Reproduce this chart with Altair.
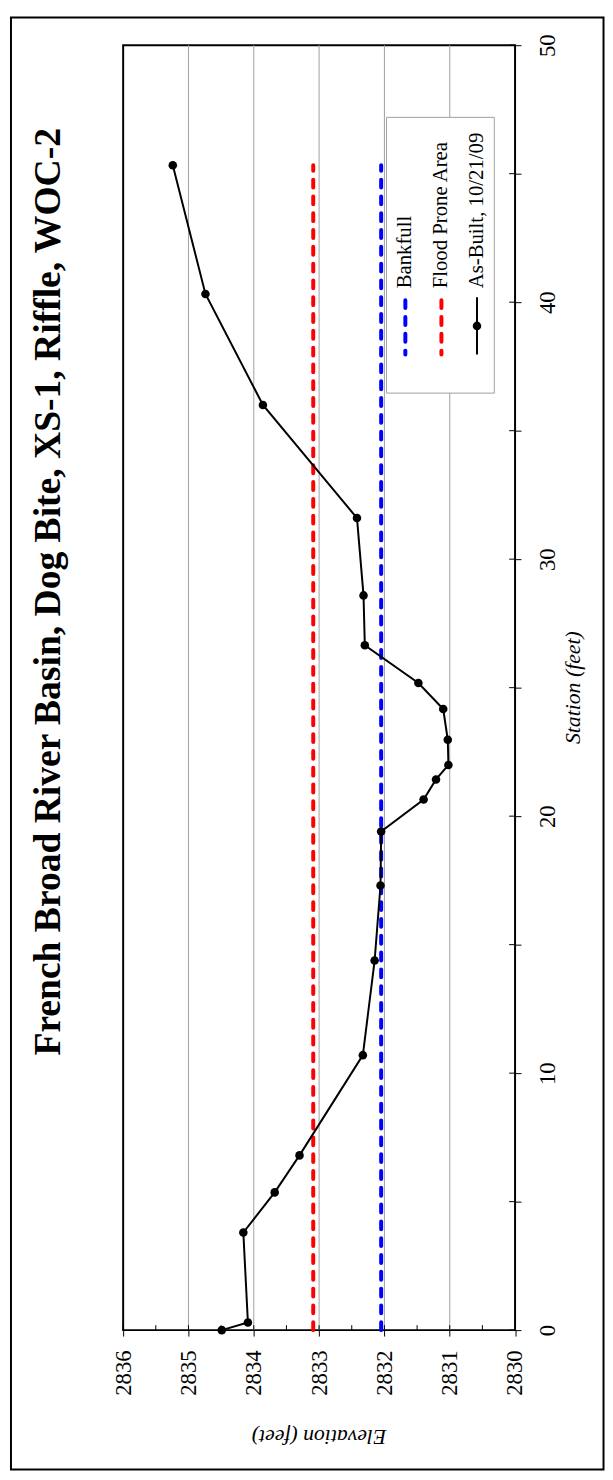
import altair as alt
import pandas as pd

# ---------------- data ----------------
station = [0.0, 0.3, 3.8, 5.36, 6.8, 10.7, 14.38, 17.3, 19.4, 20.65, 21.43,
           21.99, 22.97, 24.17, 25.18, 26.65, 28.59, 31.6, 36.0, 40.32, 45.33]
elevation = [2834.49, 2834.09, 2834.16, 2833.68, 2833.30, 2832.33, 2832.15,
             2832.06, 2832.05, 2831.40, 2831.21, 2831.02, 2831.03, 2831.10,
             2831.48, 2832.30, 2832.32, 2832.42, 2833.86, 2834.74, 2835.24]

ref_names = ["Bankfull", "Flood Prone Area"]
ref_elev = [2832.05, 2833.09]
ref_start = [0.0, 0.0]
ref_end = [45.33, 45.33]
ref_colors = ["#0000FF", "#FF0000"]

elev_ticks = [2830, 2831, 2832, 2833, 2834, 2835, 2836]
elev_grid = [2831, 2832, 2833, 2834, 2835]
elev_minor = [2830, 2830.5, 2831, 2831.5, 2832, 2832.5, 2833, 2833.5,
              2834, 2834.5, 2835, 2835.5, 2836]
station_ticks = [0, 5, 10, 15, 20, 25, 30, 35, 40, 45, 50]

title_text = "French Broad River Basin, Dog Bite, XS-1, Riffle, WOC-2"
x_title = "Elevation (feet)"
y_title = "Station (feet)"
series_name = "As-Built, 10/21/09"

# ---------------- layout ----------------
W, H = 396.5, 1300
FONT = "Liberation Serif"

profile = pd.DataFrame({"station": station, "elev": elevation})
refs = pd.DataFrame({"name": ref_names, "elev": ref_elev,
                     "s0": ref_start, "s1": ref_end})
one = pd.DataFrame({"k": [0]})

xscale = alt.Scale(domain=[2830, 2836], reverse=True, nice=False, zero=False)
yscale = alt.Scale(domain=[0, 50], nice=False, zero=False)

xaxis = alt.Axis(values=elev_ticks, orient="bottom", title=None,
                 grid=False, domain=False, tickSize=6, tickColor="black",
                 labelAngle=270, labelAlign="right", labelBaseline="middle",
                 labelPadding=14, labelFont=FONT, labelFontSize=23,
                 labelColor="black", format="d")
yaxis = alt.Axis(values=station_ticks, orient="right", title=None,
                 grid=False, domain=False, tickSize=6, tickColor="black",
                 labelAngle=270, labelAlign="center", labelBaseline="top",
                 labelPadding=16, labelFont=FONT, labelFontSize=23,
                 labelColor="black",
                 labelExpr="datum.value % 10 == 0 ? datum.label : ''")

# gridlines
grid = alt.Chart(pd.DataFrame({"g": elev_grid})).mark_rule(
    color="#A0A0A0", strokeWidth=1
).encode(
    x=alt.X("g:Q", scale=xscale, axis=xaxis),
    y=alt.value(0), y2=alt.value(H),
)

# inner minor ticks
xminor = alt.Chart(pd.DataFrame({"t": elev_minor})).mark_rule(
    color="black", strokeWidth=1
).encode(
    x=alt.X("t:Q", scale=xscale, axis=xaxis),
    y=alt.value(H - 5), y2=alt.value(H),
)
yminor = alt.Chart(pd.DataFrame({"t": station_ticks})).mark_rule(
    color="black", strokeWidth=1
).encode(
    y=alt.Y("t:Q", scale=yscale, axis=yaxis),
    x=alt.value(W - 6), x2=alt.value(W),
)

# reference lines
ref_lines = alt.Chart(refs).mark_rule(
    strokeWidth=4, strokeDash=[8, 9], strokeCap="round"
).encode(
    x=alt.X("elev:Q", scale=xscale, axis=xaxis),
    y=alt.Y("s0:Q", scale=yscale, axis=yaxis),
    y2="s1:Q",
    color=alt.Color("name:N", scale=alt.Scale(domain=ref_names, range=ref_colors),
                    legend=None),
)

# profile
line = alt.Chart(profile).mark_line(
    color="black", strokeWidth=2,
    point=alt.OverlayMarkDef(filled=True, color="black", size=75, opacity=1),
).encode(
    x=alt.X("elev:Q", scale=xscale, axis=xaxis),
    y=alt.Y("station:Q", scale=yscale, axis=yaxis),
    order="station:Q",
)

# legend
leg_box = alt.Chart(one).mark_rect(
    fill="white", stroke="#A0A0A0", strokeWidth=1
).encode(x=alt.value(266.5), x2=alt.value(375.5), y=alt.value(73), y2=alt.value(352))

leg_blue = alt.Chart(one).mark_rule(
    color=ref_colors[0], strokeWidth=4, strokeDash=[8, 9], strokeCap="round"
).encode(x=alt.value(285.5), y=alt.value(258), y2=alt.value(313))
leg_red = alt.Chart(one).mark_rule(
    color=ref_colors[1], strokeWidth=4, strokeDash=[8, 9], strokeCap="round"
).encode(x=alt.value(322), y=alt.value(258), y2=alt.value(313))
leg_black = alt.Chart(one).mark_rule(color="black", strokeWidth=2).encode(
    x=alt.value(358), y=alt.value(255), y2=alt.value(313))
leg_dot = alt.Chart(one).mark_point(filled=True, color="black", size=75, opacity=1).encode(
    x=alt.value(358), y=alt.value(284))


def vtext(label, x, y, size, align="left", angle=270, italic=False, bold=False,
          baseline="middle"):
    return alt.Chart(pd.DataFrame({"label": [label]})).mark_text(
        font=FONT, fontSize=size, angle=angle, align=align, baseline=baseline,
        color="black", fontStyle="italic" if italic else "normal",
        fontWeight="bold" if bold else "normal",
    ).encode(x=alt.value(x), y=alt.value(y), text="label:N")


leg_t1 = vtext(ref_names[0], 285.5, 246, 21)
leg_t2 = vtext(ref_names[1], 322, 246, 21)
leg_t3 = vtext(series_name, 358, 246, 21)

title_mark = vtext(title_text, -63.5, 553, 38, align="center", bold=True,
                   baseline="alphabetic")
ytitle_mark = vtext(y_title, 455, 650, 22, align="center", italic=True)
xtitle_mark = vtext(x_title, 198.25, 1407.6, 22, align="center", angle=180,
                    italic=True)

frame = alt.Chart(one).mark_rect(
    fillOpacity=0, stroke="black", strokeWidth=2
).encode(x=alt.value(-113.5), x2=alt.value(486), y=alt.value(-28), y2=alt.value(1441))

chart = alt.layer(
    frame, grid, xminor, yminor, ref_lines, line,
    leg_box, leg_blue, leg_red, leg_black, leg_dot, leg_t1, leg_t2, leg_t3,
    title_mark, ytitle_mark, xtitle_mark,
).properties(
    width=W, height=H,
    autosize=alt.AutoSizeParams(type="none"),
    padding={"left": 116.5, "top": 29, "right": 91, "bottom": 143},
    background="white",
).configure_view(stroke="black", strokeWidth=2)

chart.save("out.html", embed_options={"renderer": "svg", "actions": False})
